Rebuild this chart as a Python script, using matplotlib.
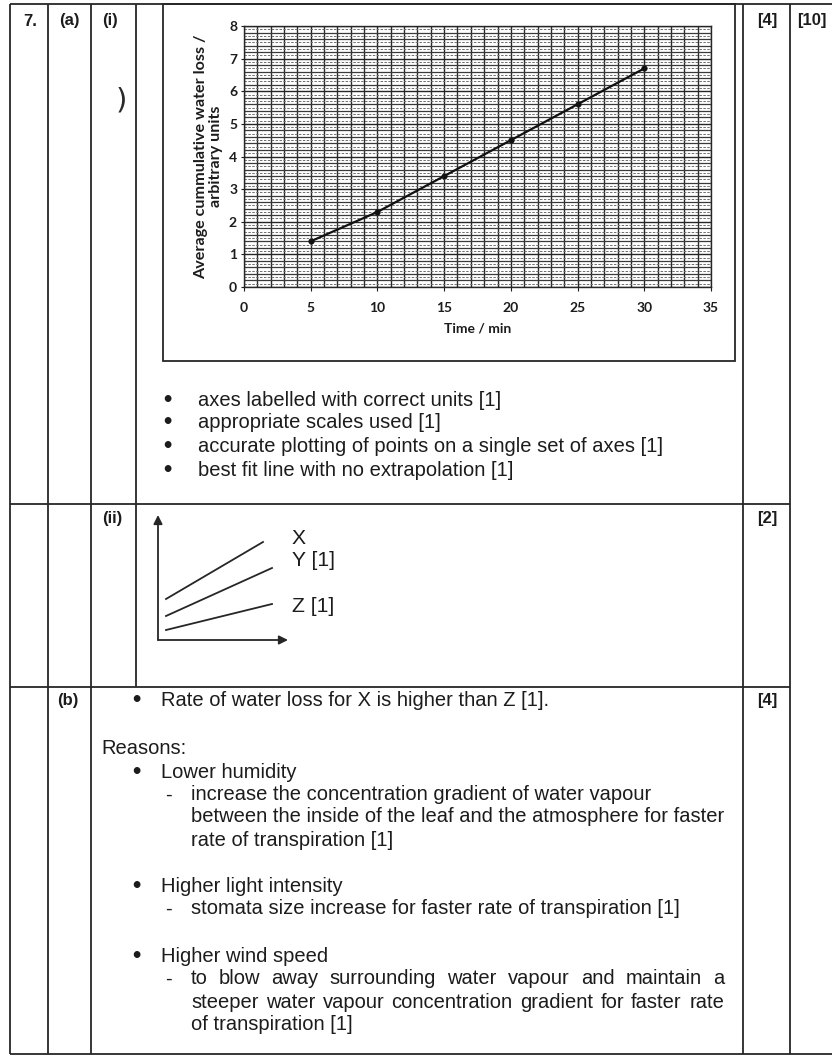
import matplotlib
matplotlib.use("Agg")
import matplotlib.pyplot as plt
from matplotlib import font_manager
from matplotlib.ticker import MultipleLocator
from matplotlib.patches import Rectangle
import numpy as np

# ---------------- data ----------------
time_min = [5, 10, 15, 20, 25, 30]
water_loss = [1.4, 2.3, 3.4, 4.5, 5.6, 6.7]
x_tick_values = [0, 5, 10, 15, 20, 25, 30, 35]
y_tick_values = [0, 1, 2, 3, 4, 5, 6, 7, 8]
x_label = "Time / min"
y_label = "Average cummulative water loss /\narbitrary units"

# sketch for (ii): three straight lines X, Y, Z (arbitrary units)
sketch_labels = ["X", "Y [1]", "Z [1]"]
sketch_x_start = [8, 8, 8]
sketch_x_end = [105, 114, 114]
sketch_y_start = [41, 24, 10]
sketch_y_end = [98, 72, 36]
sketch_label_y = [101, 79, 33]

row_labels = ["7.", "(a)", "(i)", "(ii)", "(b)"]
marks = ["[4]", "[2]", "[4]"]
total_mark = "[10]"

points_a_i = [
    "axes labelled with correct units [1]",
    "appropriate scales used [1]",
    "accurate plotting of points on a single set of axes [1]",
    "best fit line with no extrapolation [1]",
]
answer_b = "Rate of water loss for X is higher than Z [1]."
reasons_title = "Reasons:"
reasons = ["Lower humidity", "Higher light intensity", "Higher wind speed"]
explanations = [
    ["increase the concentration gradient of water vapour",
     "between the inside of the leaf and the atmosphere for faster",
     "rate of transpiration [1]"],
    ["stomata size increase for faster rate of transpiration [1]"],
    ["to blow away surrounding water vapour and maintain a",
     "steeper water vapour concentration gradient for faster rate",
     "of transpiration [1]"],
]

# ---------------- fonts ----------------
names = {f.name for f in font_manager.fontManager.ttflist}
body_font = "Liberation Sans Narrow" if "Liberation Sans Narrow" in names else "Liberation Sans"
head_font = "Liberation Sans"
chart_font = "Lato" if "Lato" in names else "DejaVu Sans"
ink = "#1c1c1c"
line_c = "#262626"

W, H = 832, 1056
fig = plt.figure(figsize=(W / 100, H / 100), dpi=100)
fig.patch.set_facecolor("white")
bg = fig.add_axes([0, 0, 1, 1])
bg.set_xlim(0, W)
bg.set_ylim(H, 0)
bg.axis("off")


def fr(x0, y0, x1, y1):
    return [x0 / W, 1 - y1 / H, (x1 - x0) / W, (y1 - y0) / H]


renderer = fig.canvas.get_renderer()

# fit body font size so the long line spans the column width
probe = bg.text(0, 0, explanations[0][1], fontsize=10, family=body_font)
pw = probe.get_window_extent(renderer).width
probe.remove()
body_size = 10 * 533 / pw

# ---------------- table lines ----------------
lw_t = 1.3
for x, y0, y1 in [(10, 4, 1054), (48, 4, 1054), (91, 4, 1054), (136, 4, 687),
                  (743, 4, 1054), (790, 4, 1054)]:
    bg.plot([x, x], [y0, y1], color=line_c, lw=lw_t, solid_capstyle="butt")
for y, x0, x1 in [(4, 10, 832), (504, 10, 790), (687, 10, 790), (1054, 10, 832)]:
    bg.plot([x0, x1], [y, y], color=line_c, lw=lw_t, solid_capstyle="butt")

# chart frame box
bg.add_patch(Rectangle((163, 4), 735 - 163, 361 - 4, fill=False, ec=line_c, lw=1.3))

# ---------------- header texts ----------------
hk = dict(family=head_font, fontweight="bold", fontsize=12, color=ink, va="center")
bg.text(23, 21, row_labels[0], **hk)
bg.text(59, 21, row_labels[1], **hk)
bg.text(102, 21, row_labels[2], **hk)
bg.text(102, 519, row_labels[3], **hk)
bg.text(57, 701, row_labels[4], **hk)
bg.text(757, 21, marks[0], **hk)
bg.text(757, 519, marks[1], **hk)
bg.text(757, 701, marks[2], **hk)
bg.text(797, 21, total_mark, **hk)
# pen mark
bg.text(121, 100, ")", family="DejaVu Sans", fontsize=21, color="#2a2a2a",
        va="center", ha="center")

# ---------------- chart (a)(i) ----------------
ax = fig.add_axes(fr(244, 26, 711, 287))
ax.set_xlim(0, 35)
ax.set_ylim(0, 8)
ax.set_xticks(x_tick_values)
ax.set_yticks(y_tick_values)
ax.xaxis.set_minor_locator(MultipleLocator(1))
ax.yaxis.set_minor_locator(MultipleLocator(0.2))
ax.hlines(np.arange(0.1, 8, 0.2), 0, 35, colors="#6e6e6e", lw=0.7,
          linestyles=(0, (2.5, 1.5)), zorder=1)
ax.grid(True, which="major", color="#262626", lw=1.0, zorder=1)
ax.grid(True, which="minor", axis="x", color="#2a2a2a", lw=1.0, zorder=1)
ax.grid(True, which="minor", axis="y", color="#3a3a3a", lw=0.9, zorder=1)
ax.set_axisbelow(True)
for s in ax.spines.values():
    s.set_color("#262626")
    s.set_linewidth(1.0)
ax.tick_params(which="minor", length=0)
ax.tick_params(axis="x", which="major", direction="out", length=3, width=0.8,
               pad=8, colors=ink)
ax.tick_params(axis="y", which="major", direction="out", length=2.5, width=0.8,
               pad=2.5, colors=ink)
for lab in ax.get_xticklabels() + ax.get_yticklabels():
    lab.set_family(chart_font)
    lab.set_fontweight("bold")
    lab.set_fontsize(10)
ax.plot(time_min, water_loss, color="#111111", lw=1.6, marker="o", ms=3.4,
        zorder=5)
ax.set_xlabel(x_label, family=chart_font, fontweight="bold", fontsize=10,
              color=ink, labelpad=6)
ax.set_ylabel(y_label, family=chart_font, fontweight="bold", fontsize=11.6,
              color=ink, labelpad=4, linespacing=1.1)

# ---------------- body texts ----------------
bk = dict(family=body_font, fontsize=body_size, color=ink, va="center")
bullet_kw = dict(family="DejaVu Sans", fontsize=body_size * 0.95, color=ink,
                 va="center", ha="center", fontweight="bold")

ys_a = [400, 423, 447, 471]
for y, s in zip(ys_a, points_a_i):
    bg.text(167, y, "\u2022", **bullet_kw)
    bg.text(198, y, s, **bk)

bg.text(136, 700, "\u2022", **bullet_kw)
bg.text(161, 700, answer_b, **bk)
bg.text(101, 748, reasons_title, **bk)


def justified(x0, x1, y, s):
    words = s.split()
    ts = [bg.text(0, y, w, **bk) for w in words]
    widths = [t.get_window_extent(renderer).width for t in ts]
    gap = (x1 - x0 - sum(widths)) / (len(words) - 1)
    x = x0
    for t, w in zip(ts, widths):
        t.set_x(x)
        x += w + gap


reason_y = [773, 887, 957]
expl_y = [[795, 817, 840], [909], [979, 1002, 1025]]
justify_flags = [[False, False, False], [False], [True, True, False]]
for ry, rt, ey, ex, jf in zip(reason_y, reasons, expl_y, explanations, justify_flags):
    bg.text(136, ry, "\u2022", **bullet_kw)
    bg.text(161, ry, rt, **bk)
    bg.text(165, ey[0], "-", **bk)
    for yy, line, j in zip(ey, ex, jf):
        if j:
            justified(191, 724, yy, line)
        else:
            bg.text(191, yy, line, **bk)

# ---------------- sketch (ii) ----------------
sk = fig.add_axes(fr(158, 515, 288, 640))
sk.set_xlim(0, 130)
sk.set_ylim(0, 125)
sk.axis("off")
arrow = dict(arrowstyle="-|>", lw=1.3, color=line_c, mutation_scale=13,
             shrinkA=0, shrinkB=0)
sk.annotate("", xy=(0, 125), xytext=(0, 0), arrowprops=arrow, annotation_clip=False)
sk.annotate("", xy=(130, 0), xytext=(0, 0), arrowprops=arrow, annotation_clip=False)
for lab, xa, xb, ya, yb, ly in zip(sketch_labels, sketch_x_start, sketch_x_end,
                                   sketch_y_start, sketch_y_end, sketch_label_y):
    sk.plot([xa, xb], [ya, yb], color=line_c, lw=1.3, clip_on=False)
    sk.text(134, ly, lab, family=body_font, fontsize=body_size * 1.05, color=ink,
            va="center", ha="left", clip_on=False)

fig.savefig("out.png", dpi=100, facecolor="white")
